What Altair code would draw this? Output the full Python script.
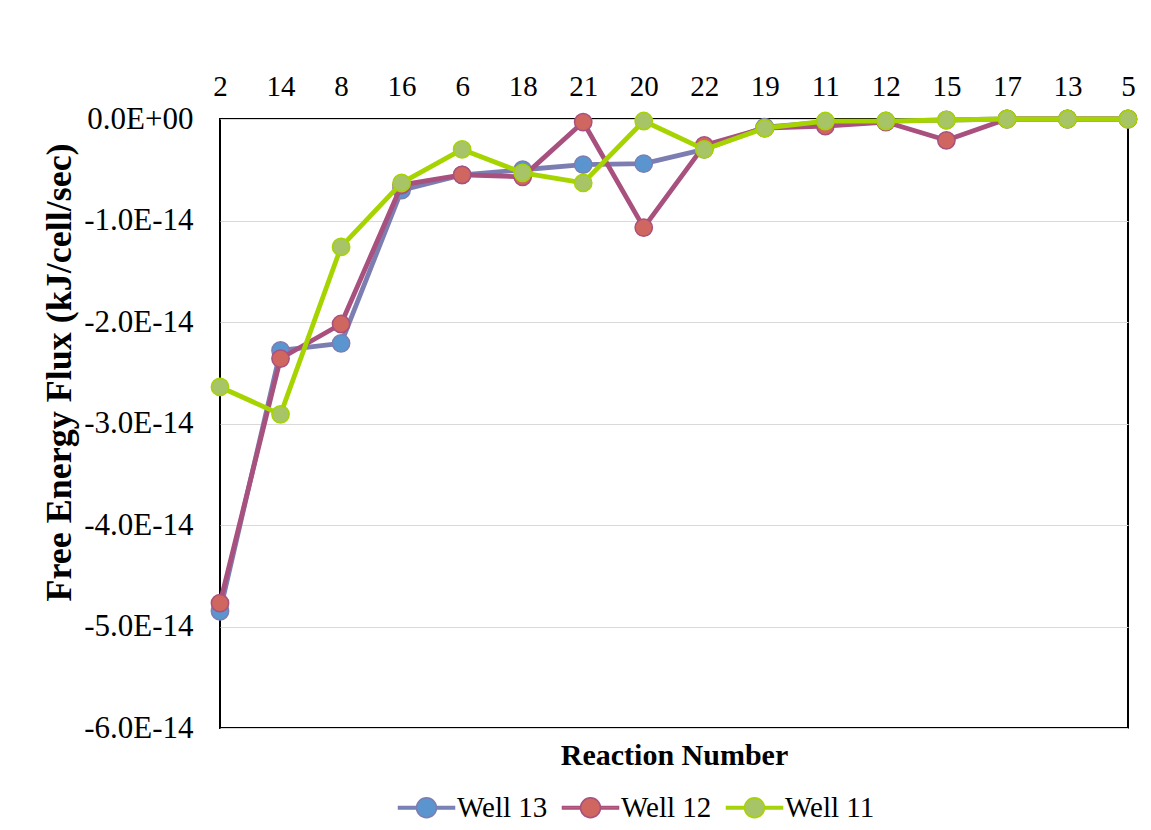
import altair as alt
import pandas as pd

reactions = ["2", "14", "8", "16", "6", "18", "21", "20", "22", "19", "11", "12", "15", "17", "13", "5"]
series_names = ["Well 13", "Well 12", "Well 11"]
well13 = [-4.85e-14, -2.28e-14, -2.21e-14, -0.70e-14, -0.55e-14, -0.50e-14, -0.45e-14, -0.44e-14,
          -0.30e-14, -0.08e-14, -0.03e-14, -0.02e-14, -0.01e-14, 0.0, 0.0, 0.0]
well12 = [-4.77e-14, -2.36e-14, -2.02e-14, -0.65e-14, -0.55e-14, -0.57e-14, -0.03e-14, -1.07e-14,
          -0.26e-14, -0.09e-14, -0.07e-14, -0.03e-14, -0.21e-14, 0.0, 0.0, 0.0]
well11 = [-2.64e-14, -2.91e-14, -1.26e-14, -0.63e-14, -0.30e-14, -0.53e-14, -0.63e-14, -0.02e-14,
          -0.30e-14, -0.09e-14, -0.02e-14, -0.02e-14, -0.01e-14, 0.0, 0.0, 0.0]
y_ticks = [-6e-14, -5e-14, -4e-14, -3e-14, -2e-14, -1e-14, 0.0]

line_colors = ["#7C7EB2", "#A8507E", "#A6D400"]
fill_colors = ["#5B95CF", "#CF6660", "#A7C466"]

rows = []
for name, vals in zip(series_names, [well13, well12, well11]):
    for r, v in zip(reactions, vals):
        rows.append({"reaction": r, "value": v, "series": name})
df = pd.DataFrame(rows)

FONT = "Liberation Serif, Times New Roman, DejaVu Serif, serif"
W, H = 908, 609

x_enc = alt.X("reaction:N", sort=reactions, scale=alt.Scale(type="point", padding=0), axis=None)
y_enc = alt.Y(
    "value:Q",
    scale=alt.Scale(domain=[-6e-14, 0], nice=False),
    axis=alt.Axis(
        values=y_ticks,
        labelExpr="datum.value == 0 ? '0.0E+00' : '-' + format(-datum.value/1e-14, '.1f') + 'E-14'",
        title="Free Energy Flux (kJ/cell/sec)",
        titleFont=FONT, titleFontSize=36, titleFontWeight="bold", titleColor="black",
        titleX=-150, titleY=253, titleAngle=-90, titleBaseline="alphabetic", titleAlign="center",
        labelFont=FONT, labelFontSize=31, labelColor="black", labelPadding=27,
        ticks=False, tickSize=0, domain=False,
        grid=True, gridColor="#D9D9D9", gridWidth=1,
    ),
)

legend_path = ("M-2.8,-0.12H-1V0.12H-2.8Z M1,-0.12H2.8V0.12H1Z "
               "M-1,0A1,1 0 1,0 1,0A1,1 0 1,0 -1,0Z")
legend = alt.Legend(
    title=None, orient="none", direction="horizontal", legendX=192, legendY=674,
    symbolType=legend_path, symbolSize=400, symbolStrokeWidth=1.5, symbolOpacity=1,
    labelFont=FONT, labelFontSize=29, labelColor="black", labelOffset=16,
    columnPadding=11, padding=0,
)
stroke_scale = alt.Scale(domain=series_names, range=line_colors)
fill_scale = alt.Scale(domain=series_names, range=fill_colors)

layers = []
axis_layer = alt.Chart(df).mark_point(opacity=0).encode(
    x=alt.X("reaction:N", sort=reactions, scale=alt.Scale(type="point", padding=0),
            axis=alt.Axis(orient="top", labelAngle=0, labelFont=FONT, labelFontSize=29,
                          labelColor="black", labelPadding=18, ticks=False, tickSize=0,
                          domain=False, grid=False,
                          title="Reaction Number", titleFont=FONT, titleFontSize=30,
                          titleFontWeight="bold", titleColor="black",
                          titleX=W / 2, titleY=636, titleBaseline="middle", titleAlign="center")),
    y=y_enc,
)
layers.append(axis_layer)
for name in series_names:
    base = alt.Chart(df).transform_filter(alt.datum.series == name)
    ln = base.mark_line(strokeWidth=4.8, strokeJoin="round").encode(
        x=x_enc, y=y_enc,
        stroke=alt.Stroke("series:N", scale=stroke_scale, legend=legend),
    )
    pt = base.mark_point(filled=True, size=300, strokeWidth=1.5, opacity=1, shape="circle").encode(
        x=x_enc, y=y_enc,
        fill=alt.Fill("series:N", scale=fill_scale, legend=legend),
        stroke=alt.Stroke("series:N", scale=stroke_scale, legend=legend),
    )
    layers += [ln, pt]

chart = alt.layer(*layers).resolve_axis(x="independent").properties(
    width=W, height=H,
    autosize=alt.AutoSizeParams(type="none"),
    padding={"left": 212, "top": 111, "right": 15, "bottom": 100},
    background="white",
).configure_view(stroke="black", strokeWidth=2)

chart.save("out.html", embed_options={"renderer": "svg", "actions": False})
